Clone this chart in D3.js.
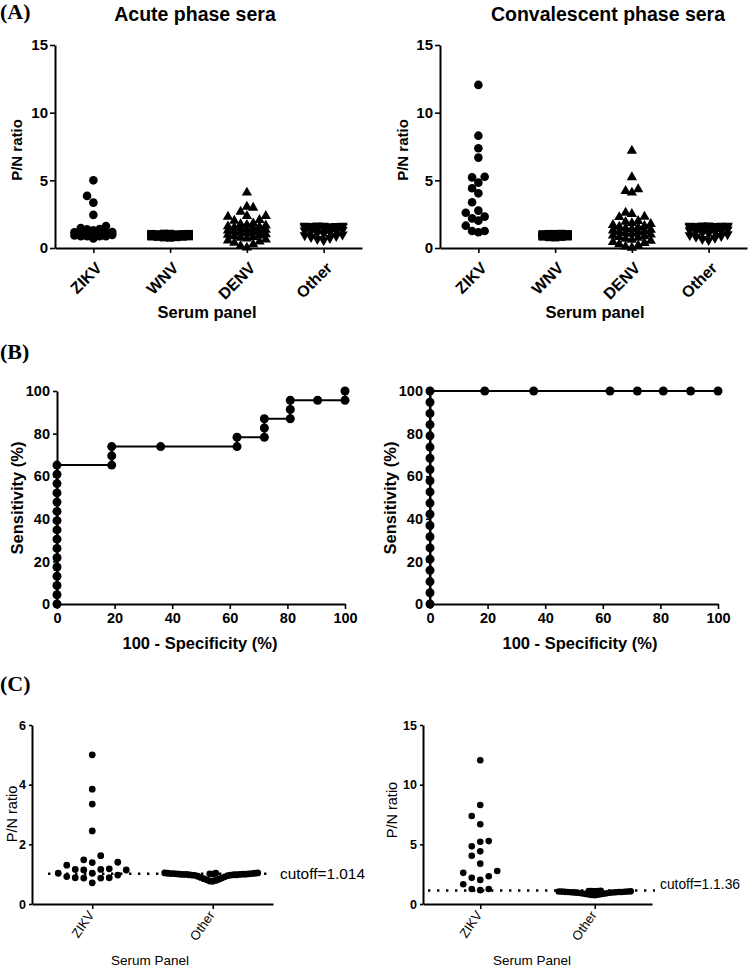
<!DOCTYPE html>
<html><head><meta charset="utf-8">
<script src="https://cdn.jsdelivr.net/npm/d3@7"></script>
<style>
body{margin:0;background:#fff;}
svg{display:block;}
</style></head><body>
<svg id="chart" width="750" height="968"></svg>
<script>
// ---------------- DATA ----------------
const categoriesA = ["ZIKV","WNV","DENV","Other"];
const categoriesC = ["ZIKV","Other"];
const yTicksA = [0,5,10,15];
const rocTicks = [0,20,40,60,80,100];
const yTicksCAcute = [0,2,4,6];
const yTicksCConv = [0,5,10,15];

const zikvAcute = [5.0,3.85,3.35,2.45,1.62,1.48,1.40,1.39,1.30,1.18,1.16,1.16,1.14,1.14,1.03,1.03,0.97,0.92,0.88,0.88,0.87,0.87,0.71];
const wnvAcute = [1.06,1.05,1.04,1.04,1.03,1.02,1.01,1.0,1.0,0.99,0.98,0.97,0.97,0.96,0.95,0.94,0.93,0.92,0.91,0.9,0.89,0.88,0.87,0.86,0.85,0.83,0.82,0.8,0.78,0.76];
const denvAcute = [4.09,3.05,2.98,2.68,2.37,2.37,2.31,2.07,2.02,1.82,1.76,1.71,1.66,1.6,1.56,1.52,1.47,1.43,1.39,1.34,1.3,1.26,1.21,1.17,1.12,1.07,1.02,0.97,0.92,0.87,0.81,0.76,0.7,0.63,0.55,0.47,0.38,0.27,0.15,0.03];
const otherAcute = [1.66,1.65,1.65,1.64,1.63,1.62,1.61,1.6,1.58,1.56,1.54,1.51,1.48,1.45,1.42,1.38,1.34,1.3,1.25,1.21,1.16,1.11,1.06,1.0,0.94,0.88,0.81,0.74,0.66,0.57];

const zikvConv = [12.05,8.30,7.37,6.68,5.27,5.22,4.83,4.41,4.04,3.38,2.76,2.61,2.32,2.19,2.02,1.65,1.26,1.26,1.16];
const wnvConv = [1.05,1.04,1.04,1.03,1.02,1.01,1.0,1.0,0.99,0.98,0.98,0.97,0.96,0.95,0.94,0.93,0.92,0.91,0.9,0.89,0.88,0.87,0.86,0.85,0.84,0.82,0.8,0.78];
const denvConv = [7.19,5.23,4.34,4.21,4.09,2.61,2.51,2.31,2.28,2.0,1.93,1.84,1.77,1.7,1.63,1.57,1.51,1.46,1.4,1.35,1.3,1.25,1.2,1.15,1.1,1.05,0.99,0.93,0.87,0.81,0.75,0.68,0.61,0.53,0.45,0.37,0.28,0.19,0.1,0.02];
const otherConv = [1.67,1.66,1.65,1.64,1.64,1.63,1.62,1.6,1.59,1.57,1.55,1.52,1.49,1.46,1.43,1.39,1.35,1.31,1.27,1.22,1.17,1.12,1.07,1.01,0.95,0.89,0.82,0.75,0.67,0.58];

// ROC curves: x = 100 - specificity (%), y = sensitivity (%)
const rocAcuteX = [0,0,0,0,0,0,0,0,0,0,0,0,0,0,0,0,19,19,19,36,62.5,62.5,72,72,72,81,81,81,90.5,100,100];
const rocAcuteY = [0,4.35,8.7,13.04,17.39,21.74,26.09,30.43,34.78,39.13,43.48,47.83,52.17,56.52,60.87,65.22,65.22,69.57,73.91,73.91,73.91,78.26,78.26,82.61,86.96,86.96,91.3,95.65,95.65,95.65,100];
const rocConvX = [0,0,0,0,0,0,0,0,0,0,0,0,0,0,0,0,0,0,0,0,19,36,62.5,72,81,90.5,100];
const rocConvY = [0,5.26,10.53,15.79,21.05,26.32,31.58,36.84,42.11,47.37,52.63,57.89,63.16,68.42,73.68,78.95,84.21,89.47,94.74,100,100,100,100,100,100,100,100];

// Panel C
const otherCAcute = [1.04,1.04,1.03,1.03,1.03,1.02,1.02,1.02,1.01,1.01,1.01,1.0,1.0,1.0,1.0,0.99,0.99,0.99,0.98,0.98,0.98,0.97,0.97,0.96,0.95,0.93,0.91,0.89,0.87,0.85,0.83,0.81,0.79,0.77,0.76];
const otherCConv = [1.1,1.09,1.08,1.08,1.07,1.06,1.05,1.05,1.04,1.03,1.02,1.01,1.0,1.0,0.99,0.98,0.97,0.96,0.95,0.94,0.92,0.9,0.88,0.86,0.84,0.82,0.8,0.78,0.76,0.74];
const cutoffAcute = 1.014, cutoffConv = 1.136;
const cutoffLabels = ["cutoff=1.014","cutoff=1.1.36"];

// ---------------- DRAWING ----------------
const svg = d3.select("#chart");
const FONT = '"Liberation Sans", Arial, sans-serif';
const SERIF = '"Liberation Serif", "Times New Roman", serif';

function styleAxis(g, sw){
  g.select(".domain").attr("stroke","#000").attr("stroke-width",sw);
  g.selectAll(".tick line").attr("stroke","#000").attr("stroke-width",sw*0.8);
  g.selectAll(".tick text").attr("fill","#000").attr("font-family",FONT);
}
function txt(x,y,s,size,opts={}){
  const t = svg.append("text").attr("x",x).attr("y",y).text(s)
    .attr("font-family",opts.serif?SERIF:FONT).attr("font-size",size)
    .attr("font-weight",opts.bold===false?"normal":"bold")
    .attr("text-anchor",opts.anchor||"middle").attr("fill","#000");
  if(opts.rotate) t.attr("transform",`rotate(${opts.rotate},${x},${y})`);
  if(opts.fit) t.attr("textLength",opts.fit).attr("lengthAdjust","spacingAndGlyphs");
  return t;
}

// GraphPad-like column scatter: discrete horizontal slots, avoid vertical overlap
function swarm(values, yScale, opt){
  const pts = values.map(v=>({v, y:yScale(v)})).sort((a,b)=>a.v-b.v);
  const kMax = Math.floor(opt.maxHalf/opt.w);
  const order=[0]; for(let k=1;k<=kMax;k++){order.push(-k,k);}
  const placed = new Map();
  pts.forEach(p=>{
    let chosen=null;
    for(const k of order){
      const ys = placed.get(k)||[];
      if(ys.every(y=>Math.abs(y-p.y)>=opt.h)){chosen=k;break;}
    }
    if(chosen===null){
      let best=-1;
      for(const k of order){
        const ys=placed.get(k)||[];
        const m = ys.length? d3.min(ys, y=>Math.abs(y-p.y)) : Infinity;
        if(m>best+1e-9){best=m;chosen=k;}
      }
    }
    if(!placed.has(chosen)) placed.set(chosen,[]);
    placed.get(chosen).push(p.y);
    p.dx = chosen*opt.w;
  });
  return pts;
}

const symbolTypes = {circle:d3.symbolCircle, square:d3.symbolSquare, up:d3.symbolTriangle, down:d3.symbolTriangle};

function drawGroup(g, pts, cx, shape, size){
  const sym = d3.symbol().type(symbolTypes[shape]).size(size);
  g.append("g").selectAll("path").data(pts).join("path")
    .attr("d", sym)
    .attr("transform", d=>`translate(${cx+d.dx},${d.y})${shape==="down"?" rotate(180)":""}`)
    .attr("fill","#000");
}

// ---- Panel A ----
function panelA(cfg){
  const x = d3.scalePoint().domain(categoriesA).range([cfg.x0,cfg.x1]).padding(0.5);
  const y = d3.scaleLinear().domain([0,15]).range([cfg.yb,cfg.yt]);
  const g = svg.append("g");
  const ya = g.append("g").attr("transform",`translate(${cfg.x0},0)`)
    .call(d3.axisLeft(y).tickValues(yTicksA).tickFormat(d3.format("d")).tickSize(5).tickSizeOuter(0).tickPadding(2));
  styleAxis(ya,2);
  ya.selectAll(".tick text").attr("font-size",15).attr("font-weight","bold");
  const xa = g.append("g").attr("transform",`translate(0,${cfg.yb})`)
    .call(d3.axisBottom(x).tickSize(5).tickSizeOuter(0));
  styleAxis(xa,2);
  xa.selectAll(".tick text").attr("font-size",16).attr("font-weight","bold")
    .attr("text-anchor","end").attr("x",0).attr("y",0).attr("dy",0)
    .attr("transform","translate(9,21) rotate(-45)");
  const series = [
    {cat:"ZIKV", vals:cfg.data[0], shape:"circle", size:Math.PI*4.3*4.3},
    {cat:"WNV", vals:cfg.data[1], shape:"square", size:64},
    {cat:"DENV", vals:cfg.data[2], shape:"up", size:46},
    {cat:"Other", vals:cfg.data[3], shape:"down", size:46}
  ];
  series.forEach((s,i)=>{
    const pts = swarm(s.vals, y, cfg.swarm[i]);
    drawGroup(g, pts, x(s.cat), s.shape, s.size);
  });
  txt(cfg.titleX, 21, cfg.title, 19.5);
  txt(cfg.ylabX, 150, "P/N ratio", 15, {rotate:-90});
  txt(cfg.xlabX, 318, "Serum panel", 16.5);
}

panelA({x0:55,x1:362,yb:248,yt:45,title:"Acute phase sera",titleX:195,ylabX:22,xlabX:207,
  data:[zikvAcute,wnvAcute,denvAcute,otherAcute],
  swarm:[{w:6.3,h:8.5,maxHalf:20},{w:6.3,h:8.5,maxHalf:19},{w:6.3,h:8.5,maxHalf:20},{w:6.3,h:8.5,maxHalf:19}]});
panelA({x0:440,x1:747,yb:248,yt:45,title:"Convalescent phase sera",titleX:608,ylabX:408,xlabX:595,
  data:[zikvConv,wnvConv,denvConv,otherConv],
  swarm:[{w:6.3,h:8.5,maxHalf:20},{w:6.3,h:8.5,maxHalf:16},{w:6.3,h:8.5,maxHalf:20},{w:6.3,h:8.5,maxHalf:19}]});
txt(0,19,"(A)",22,{serif:true,anchor:"start"});

// ---- Panel B ----
function panelB(cfg){
  const x = d3.scaleLinear().domain([0,100]).range([cfg.x0,cfg.x1]);
  const y = d3.scaleLinear().domain([0,100]).range([cfg.yb,cfg.yt]);
  const g = svg.append("g");
  const ya = g.append("g").attr("transform",`translate(${cfg.x0},0)`)
    .call(d3.axisLeft(y).tickValues(rocTicks).tickSize(4).tickSizeOuter(0).tickPadding(3));
  styleAxis(ya,2);
  ya.selectAll(".tick text").attr("font-size",14.5).attr("font-weight","bold");
  const xa = g.append("g").attr("transform",`translate(0,${cfg.yb})`)
    .call(d3.axisBottom(x).tickValues(rocTicks).tickSize(5).tickSizeOuter(0).tickPadding(4));
  styleAxis(xa,2);
  xa.selectAll(".tick text").attr("font-size",14.5).attr("font-weight","bold");
  const pts = cfg.xs.map((v,i)=>[v,cfg.ys[i]]);
  g.append("path").datum(pts)
    .attr("d", d3.line().x(d=>x(d[0])).y(d=>y(d[1])))
    .attr("fill","none").attr("stroke","#000").attr("stroke-width",2);
  g.append("g").selectAll("circle").data(pts).join("circle")
    .attr("cx",d=>x(d[0])).attr("cy",d=>y(d[1])).attr("r",4.5).attr("fill","#000");
  txt(cfg.ylabX, 498, "Sensitivity (%)", 16.5, {rotate:-90});
  txt(cfg.xlabX, 649, "100 - Specificity (%)", 16.5);
}
panelB({x0:57,x1:345,yb:604,yt:391,xs:rocAcuteX,ys:rocAcuteY,ylabX:23,xlabX:200});
panelB({x0:430,x1:718,yb:604,yt:391,xs:rocConvX,ys:rocConvY,ylabX:396,xlabX:580});
txt(0,359,"(B)",22,{serif:true,anchor:"start"});

// ---- Panel C ----
function panelC(cfg){
  const x = d3.scalePoint().domain(categoriesC).range([cfg.x0,cfg.x1]).padding(0.5);
  const y = d3.scaleLinear().domain([0,cfg.ymax]).range([cfg.yb,cfg.yt]);
  const g = svg.append("g");
  const ya = g.append("g").attr("transform",`translate(${cfg.x0},0)`)
    .call(d3.axisLeft(y).tickValues(cfg.ticks).tickFormat(d3.format("d")).tickSize(3).tickSizeOuter(0).tickPadding(3));
  styleAxis(ya,2);
  ya.selectAll(".tick text").attr("font-size",12.5).attr("font-weight","bold");
  const xa = g.append("g").attr("transform",`translate(0,${cfg.yb})`)
    .call(d3.axisBottom(x).tickSize(5).tickSizeOuter(0));
  styleAxis(xa,2);
  xa.selectAll(".tick text").attr("font-size",13).attr("font-weight","normal")
    .attr("text-anchor","end").attr("x",0).attr("y",0).attr("dy",0)
    .attr("transform","translate(2,11) rotate(-55)");
  // cutoff line
  g.append("line").attr("x1",cfg.cx0).attr("x2",cfg.cx1)
    .attr("y1",y(cfg.cutoff)).attr("y2",y(cfg.cutoff))
    .attr("stroke","#000").attr("stroke-width",2.4).attr("stroke-dasharray","2.4,6.6");
  const ptsZ = swarm(cfg.zikv, y, cfg.swarm[0]);
  drawGroup(g, ptsZ, x("ZIKV"), "circle", Math.PI*cfg.r*cfg.r);
  const ptsO = swarm(cfg.other, y, cfg.swarm[1]);
  drawGroup(g, ptsO, x("Other"), "circle", Math.PI*cfg.r*cfg.r);
  txt(cfg.cutX, cfg.cutY, cfg.cutLabel, 15, {bold:false, anchor:"start", fit:cfg.cutFit});
  txt(cfg.ylabX, cfg.ylabY, "P/N ratio", 14.5, {bold:false, rotate:-90});
  txt(cfg.xlabX, 965, "Serum Panel", 13.5, {bold:false});
}
panelC({x0:32,x1:273,yb:904,yt:725,ymax:6,ticks:yTicksCAcute,zikv:zikvAcute,other:otherCAcute,
  cutoff:cutoffAcute,cx0:48,cx1:273,cutLabel:cutoffLabels[0],cutX:280,cutY:879,cutFit:85,r:3.4,
  ylabX:17,ylabY:814,xlabX:150,
  swarm:[{w:8.5,h:9,maxHalf:36},{w:3,h:7,maxHalf:56}]});
panelC({x0:423,x1:652,yb:904,yt:725,ymax:15,ticks:yTicksCConv,zikv:zikvConv,other:otherCConv,
  cutoff:cutoffConv,cx0:428,cx1:655,cutLabel:cutoffLabels[1],cutX:660,cutY:889,cutFit:80,r:3.3,
  ylabX:397,ylabY:810,xlabX:532,
  swarm:[{w:8.5,h:9,maxHalf:36},{w:3,h:7,maxHalf:36}]});
txt(0,691,"(C)",22,{serif:true,anchor:"start"});
</script>
</body></html>
